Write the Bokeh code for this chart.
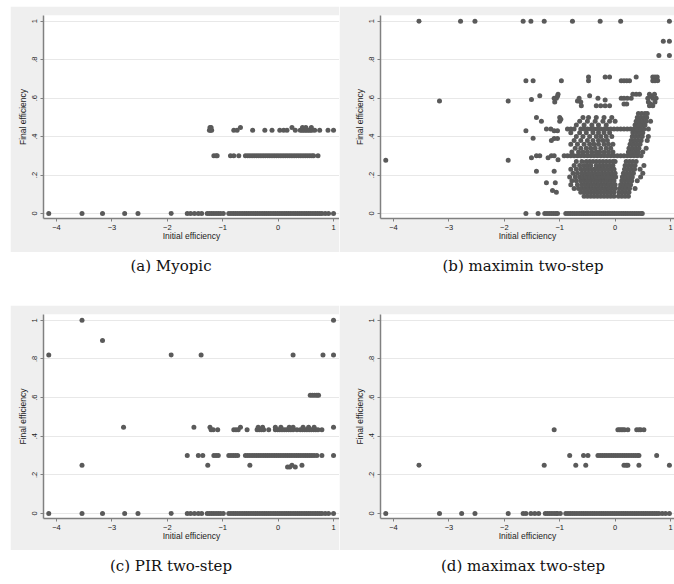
from bokeh.plotting import figure
from bokeh.layouts import column, row, Spacer
from bokeh.models import Range1d, FixedTicker, Div, ColumnDataSource
from bokeh.embed import file_html
from bokeh.resources import INLINE

# ---------------- data ----------------
X_TICKS = [-4, -3, -2, -1, 0, 1]
Y_TICKS = [0, 0.2, 0.4, 0.6, 0.8, 1]
Y_TICK_LABELS = ["0", ".2", ".4", ".6", ".8", "1"]
X_LABEL = "Initial efficiency"
Y_LABEL = "Final efficiency"
CAPTIONS = ["(a) Myopic", "(b) maximin two-step", "(c) PIR two-step", "(d) maximax two-step"]

# (a) Myopic : rows of (final efficiency, [initial efficiency values])
a_y0 = [-4.14, -3.54, -3.17, -2.77, -2.53, -1.93, -1.64, -1.58, -1.51, -1.44, -1.38,
        -1.28, -1.24, -1.20, -1.16, -1.12, -1.08, -1.04, -0.99, -0.89, -0.85, -0.81,
        -0.77, -0.73, -0.69, -0.65, -0.61, -0.57, -0.53, -0.49, -0.45, -0.41, -0.37,
        -0.33, -0.29, -0.25, -0.21, -0.17, -0.13, -0.09, -0.05, -0.01, 0.03, 0.07,
        0.11, 0.15, 0.19, 0.23, 0.27, 0.31, 0.35, 0.39, 0.43, 0.47, 0.51, 0.55, 0.59,
        0.63, 0.67, 0.71, 0.75, 0.79, 0.85, 0.91, 1.00]
a_y30 = [-1.16, -1.12, -1.10, -0.86, -0.80, -0.71, -0.59, -0.55, -0.51, -0.47, -0.43,
         -0.39, -0.35, -0.31, -0.27, -0.23, -0.19, -0.15, -0.11, -0.07, -0.03, 0.01,
         0.05, 0.09, 0.13, 0.17, 0.21, 0.25, 0.29, 0.33, 0.37, 0.41, 0.45, 0.49, 0.53,
         0.57, 0.61, 0.64, 0.72]
a_y43 = [-1.24, -1.22, -1.20, -0.80, -0.74, -0.46, -0.24, -0.11, 0.03, 0.10, 0.16,
         0.31, 0.40, 0.43, 0.46, 0.49, 0.52, 0.55, 0.58, 0.61, 0.66, 0.75, 0.90, 1.00]
a_y45 = [-1.23, -1.21, -0.68, 0.25, 0.44, 0.50, 0.60]
a_rows = [(0.0, a_y0), (0.30, a_y30), (0.433, a_y43), (0.447, a_y45)]

# (b) maximin two-step
b_y0 = [-1.61, -1.39, -1.27, -1.23, -1.19, -1.15, -1.11, -1.07, -1.04, -0.89, -0.85,
        -0.81, -0.77, -0.73, -0.69, -0.65, -0.61, -0.57, -0.53, -0.49, -0.45, -0.41,
        -0.37, -0.33, -0.29, -0.25, -0.21, -0.17, -0.13, -0.09, -0.05, -0.01, 0.03,
        0.07, 0.11, 0.15, 0.19, 0.23, 0.27, 0.31, 0.35, 0.39, 0.43, 0.47, 0.49]
b_rows = [
    (0.0, b_y0),
    (0.09, [-0.56, -0.50, -0.44, -0.38, -0.32, -0.26, -0.20, -0.14, -0.08, -0.02, 0.06, 0.12, 0.18, 0.24]),
    (0.11, [-0.62, -0.56, -0.50, -0.44, -0.38, -0.32, -0.26, -0.20, -0.14, -0.08, -0.02, 0.07, 0.13, 0.19, 0.25]),
    (0.13, [-0.74, -0.66, -0.60, -0.54, -0.48, -0.42, -0.36, -0.30, -0.24, -0.18, -0.12, -0.06, 0.00, 0.08, 0.14, 0.20, 0.26, 0.36]),
    (0.15, [-0.80, -0.68, -0.60, -0.54, -0.48, -0.42, -0.36, -0.30, -0.24, -0.18, -0.12, -0.06, 0.00, 0.10, 0.16, 0.22, 0.28]),
    (0.17, [-0.78, -0.70, -0.62, -0.56, -0.50, -0.44, -0.38, -0.32, -0.26, -0.20, -0.14, -0.08, -0.02, 0.12, 0.18, 0.24, 0.30, 0.40]),
    (0.19, [-0.82, -0.72, -0.64, -0.58, -0.52, -0.46, -0.40, -0.34, -0.28, -0.22, -0.16, -0.10, -0.04, 0.01, 0.13, 0.19, 0.25, 0.31, 0.46]),
    (0.21, [-0.76, -0.68, -0.60, -0.54, -0.48, -0.42, -0.36, -0.30, -0.24, -0.18, -0.12, -0.06, 0.00, 0.15, 0.21, 0.27, 0.33, 0.50]),
    (0.23, [-0.80, -0.70, -0.62, -0.56, -0.50, -0.44, -0.38, -0.32, -0.26, -0.20, -0.14, -0.08, -0.02, 0.17, 0.23, 0.29, 0.35, 0.45]),
    (0.25, [-0.74, -0.64, -0.56, -0.50, -0.44, -0.34, -0.28, -0.22, -0.16, -0.10, -0.04, 0.18, 0.24, 0.30, 0.36, 0.52]),
    (0.27, [-0.70, -0.60, -0.52, -0.46, -0.40, -0.34, -0.28, -0.22, -0.16, -0.10, -0.04, 0.00, 0.20, 0.26, 0.32, 0.38]),
    (0.30, [-0.92, -0.86, -0.80, -0.74, -0.68, -0.62, -0.56, -0.50, -0.44, -0.38, -0.32, -0.26, -0.20, -0.14, -0.08, -0.02, 0.04, 0.10, 0.16, 0.22, 0.28, 0.34, 0.40, 0.47]),
    (0.32, [-0.78, -0.66, -0.58, -0.50, -0.42, -0.34, -0.28, -0.20, -0.12, -0.04, 0.24, 0.30, 0.36, 0.42, 0.50]),
    (0.34, [-0.72, -0.62, -0.52, -0.44, -0.36, -0.26, -0.16, -0.08, 0.25, 0.31, 0.37, 0.43, 0.56]),
    (0.36, [-0.80, -0.68, -0.56, -0.46, -0.38, -0.30, -0.20, -0.12, -0.04, 0.27, 0.33, 0.39, 0.45]),
    (0.38, [-0.74, -0.62, -0.50, -0.40, -0.30, -0.22, -0.14, 0.29, 0.35, 0.41, 0.47, 0.58]),
    (0.40, [-0.70, -0.58, -0.46, -0.34, -0.26, -0.16, -0.06, 0.31, 0.37, 0.43, 0.49, 0.60]),
    (0.42, [-0.80, -0.64, -0.52, -0.40, -0.30, -0.20, -0.10, 0.32, 0.38, 0.44, 0.50]),
    (0.44, [-0.86, -0.80, -0.74, -0.62, -0.56, -0.50, -0.44, -0.38, -0.32, -0.26, -0.20, -0.14, -0.08, -0.02, 0.04, 0.10, 0.16, 0.22, 0.28, 0.34, 0.40, 0.46, 0.52, 0.60]),
    (0.46, [-0.70, -0.56, -0.42, -0.30, -0.16, 0.36, 0.42, 0.48, 0.54]),
    (0.48, [-0.64, -0.50, -0.36, -0.22, -0.10, 0.00, 0.38, 0.44, 0.50, 0.56, 0.64]),
    (0.50, [-0.58, -0.48, -0.34, -0.20, -0.06, 0.40, 0.46, 0.52, 0.57]),
    (0.52, [0.42, 0.48, 0.54, 0.58]),
    (1.0, [-3.54, -2.79, -2.53, -1.66, -1.52, -1.28, -0.77, -0.27, 0.10, 0.98]),
]
b_px = [0.87, 0.98, 0.79, 0.98, -3.17, -1.93, -4.14, -1.93,
        -1.61, -1.48, -0.97, -0.48, -0.48, -0.18, -0.10, 0.11, 0.16, 0.21, 0.26, 0.38,
        0.68, 0.72, 0.76, 0.68, 0.72, 0.77,
        -1.51, -1.36, -1.09, -1.06, -1.03, -0.68, -0.65, -0.62, -0.61, -0.46, -0.34,
        -0.26, -0.18, -0.10, -0.31, -0.18, 0.11, 0.16, 0.22, 0.29, 0.16, 0.21, 0.32,
        0.38, 0.44, 0.59, 0.62, 0.65, 0.68, 0.71, 0.74, 0.60, 0.64, 0.68, 0.72, 0.62,
        -1.61, -1.48, -1.42, -1.33, -1.51, -1.42, -1.36, -1.42, -1.24, -1.16, -1.10,
        -1.04, -1.15, -1.10, -1.04, -1.21, -1.15, -1.10, -1.03, -1.00, -1.24, -1.13,
        -1.08, -1.10, -1.06, -1.00, -0.98, -1.10, -1.04]
b_py = [0.896, 0.896, 0.822, 0.822, 0.585, 0.585, 0.277, 0.277,
        0.69, 0.69, 0.69, 0.69, 0.71, 0.71, 0.71, 0.69, 0.69, 0.69, 0.69, 0.71,
        0.71, 0.71, 0.71, 0.69, 0.69, 0.69,
        0.593, 0.612, 0.58, 0.60, 0.62, 0.585, 0.60, 0.58, 0.56, 0.612, 0.56,
        0.56, 0.56, 0.56, 0.60, 0.59, 0.60, 0.60, 0.60, 0.60, 0.57, 0.57, 0.62,
        0.62, 0.62, 0.60, 0.62, 0.61, 0.60, 0.62, 0.60, 0.58, 0.57, 0.56, 0.58, 0.56,
        0.43, 0.392, 0.50, 0.48, 0.29, 0.30, 0.30, 0.22, 0.44, 0.44, 0.43,
        0.43, 0.38, 0.39, 0.39, 0.29, 0.30, 0.30, 0.28, 0.48, 0.16, 0.12,
        0.16, 0.22, 0.11, 0.50, 0.49, 0.60, 0.61]

# (c) PIR two-step
c_rows = [
    (0.0, [-4.14, -3.54, -3.17, -2.77, -2.53, -1.93, -1.64, -1.58, -1.51, -1.44, -1.38,
           -1.28, -1.24, -1.20, -1.16, -1.12, -1.08, -1.04, -0.99, -0.89, -0.85, -0.81,
           -0.77, -0.73, -0.69, -0.65, -0.61, -0.57, -0.53, -0.49, -0.45, -0.41, -0.37,
           -0.33, -0.29, -0.25, -0.21, -0.17, -0.13, -0.09, -0.05, -0.01, 0.03, 0.07,
           0.11, 0.15, 0.19, 0.23, 0.27, 0.31, 0.35, 0.39, 0.43, 0.47, 0.51, 0.55, 0.59,
           0.63, 0.67, 0.71, 0.75, 0.79, 0.85, 0.91, 1.00]),
    (0.24, [0.17, 0.21, 0.31]),
    (0.25, [-3.54, -1.27, -0.51, 0.25, 0.43]),
    (0.30, [-1.64, -1.44, -1.36, -1.16, -1.12, -1.08, -0.89, -0.85, -0.81, -0.77, -0.73,
            -0.59, -0.55, -0.51, -0.47, -0.43, -0.39, -0.35, -0.31, -0.27, -0.23, -0.19,
            -0.15, -0.11, -0.07, -0.03, 0.01, 0.05, 0.09, 0.13, 0.17, 0.21, 0.25, 0.29,
            0.33, 0.37, 0.41, 0.45, 0.49, 0.53, 0.57, 0.61, 0.65, 0.70, 0.79, 1.00]),
    (0.433, [-1.21, -1.17, -1.09, -0.80, -0.76, -0.72, -0.56, -0.38, -0.34, -0.30, -0.26,
             -0.17, -0.05, -0.01, 0.03, 0.07, 0.11, 0.15, 0.19, 0.23, 0.27, 0.34, 0.40,
             0.44, 0.48, 0.52, 0.56, 0.60, 0.64, 0.68, 0.72, 0.79]),
    (0.446, [-2.79, -1.52, -1.23, -0.68, -0.36, -0.28, -0.05, 0.05, 0.20, 0.27, 0.45,
             0.55, 0.65, 1.00]),
    (0.612, [0.58, 0.62, 0.66, 0.70, 0.73]),
    (0.82, [-4.14, -1.93, -1.39, 0.27, 0.81, 1.00]),
    (0.896, [-3.17]),
    (1.0, [-3.54, 1.00]),
]

# (d) maximax two-step
d_rows = [
    (0.0, [-4.14, -3.17, -2.77, -2.53, -1.93, -1.66, -1.61, -1.52, -1.45, -1.38,
           -1.26, -1.22, -1.18, -1.14, -1.10, -1.06, -1.04, -0.99, -0.89, -0.85, -0.81,
           -0.77, -0.73, -0.69, -0.65, -0.61, -0.57, -0.53, -0.49, -0.45, -0.41, -0.37,
           -0.33, -0.29, -0.25, -0.21, -0.17, -0.13, -0.09, -0.05, -0.01, 0.03, 0.07,
           0.11, 0.15, 0.19, 0.23, 0.27, 0.31, 0.35, 0.39, 0.43, 0.47, 0.51, 0.55, 0.59,
           0.63, 0.67, 0.71, 0.75, 0.79, 0.85, 0.91, 0.98]),
    (0.25, [-3.54, -1.28, -0.71, -0.53, 0.16, 0.20, 0.23, 0.43, 0.98]),
    (0.30, [-0.82, -0.57, -0.49, -0.31, -0.27, -0.23, -0.19, -0.15, -0.11, -0.07, -0.03,
            0.01, 0.05, 0.09, 0.13, 0.17, 0.21, 0.25, 0.29, 0.33, 0.37, 0.41, 0.43, 0.75]),
    (0.433, [-1.10, 0.05, 0.08, 0.11, 0.14, 0.17, 0.23, 0.39, 0.43, 0.46, 0.52]),
]

# ---------------- styling ----------------
GRAY_BG = "#efefef"
MARK = "#5a5a5a"
AXIS = "#808080"
FONT = "Liberation Sans"


def flatten(rows):
    xs, ys = [], []
    for yv, xl in rows:
        xs.extend(xl)
        ys.extend([yv] * len(xl))
    return xs, ys


def panel(xs, ys, width, height, left, top, bottom, x_end):
    p = figure(width=width, height=height, output_backend="svg", toolbar_location=None,
               x_range=Range1d(-4.235, x_end), y_range=Range1d(-0.026, 1.03),
               min_border_left=left, min_border_right=0, min_border_top=top,
               min_border_bottom=bottom)
    p.background_fill_color = "white"
    p.border_fill_color = GRAY_BG
    p.outline_line_color = None
    p.xgrid.visible = False
    p.ygrid.grid_line_color = "#e8e8e8"
    p.ygrid.grid_line_width = 1
    p.xaxis.ticker = FixedTicker(ticks=X_TICKS)
    p.yaxis.ticker = FixedTicker(ticks=Y_TICKS)
    p.yaxis.major_label_overrides = {t: l for t, l in zip(Y_TICKS, Y_TICK_LABELS)}
    p.yaxis.major_label_orientation = "vertical"
    for ax in (p.xaxis[0], p.yaxis[0]):
        ax.axis_line_color = AXIS
        ax.axis_line_width = 1.5
        ax.major_tick_line_color = AXIS
        ax.major_tick_in = 0
        ax.major_tick_out = 3
        ax.minor_tick_line_color = None
        ax.major_label_text_font = FONT
        ax.major_label_text_font_size = "7.5px"
        ax.major_label_text_color = "#222222"
        ax.axis_label_text_font = FONT
        ax.axis_label_text_font_size = "8.5px"
        ax.axis_label_text_font_style = "normal"
        ax.axis_label_text_color = "#222222"
        ax.major_label_standoff = 3
    p.xaxis.axis_label = X_LABEL
    p.yaxis.axis_label = Y_LABEL
    p.xaxis.axis_label_standoff = -2
    p.yaxis.axis_label_standoff = 2
    src = ColumnDataSource(data=dict(x=xs, y=ys))
    p.scatter("x", "y", source=src, marker="circle", size=5, fill_color=MARK,
              line_color=None)
    return p


ax_, ay_ = flatten(a_rows)
bx_, by_ = flatten(b_rows)
bx_ = bx_ + b_px
by_ = by_ + b_py
cx_, cy_ = flatten(c_rows)
dx_, dy_ = flatten(d_rows)

# page content starts at the window's top-left corner
fa = panel(ax_, ay_, 329, 246, 33, 9, 34, 1.108)
fb = panel(bx_, by_, 335, 246, 41, 9, 34, 1.072)
fc = panel(cx_, cy_, 329, 245, 33, 9, 32, 1.108)
fd = panel(dx_, dy_, 335, 245, 41, 9, 32, 1.072)


def caption_div(left_text, right_text, height, cy):
    span = ('<span style="position:absolute;left:{}px;top:{}px;transform:translate(-50%,-50%);'
            'white-space:nowrap;">{}</span>')
    html = ('<div style="position:relative;width:664px;height:{}px;font-family:\'DejaVu Serif\';'
            'font-size:15px;color:#111;">'.format(height)
            + span.format(171, cy, left_text) + span.format(523, cy, right_text) + '</div>')
    return Div(text=html, width=664, height=height, margin=0)


cap1 = caption_div(CAPTIONS[0], CAPTIONS[1], 53, 15)
cap2 = caption_div(CAPTIONS[2], CAPTIONS[3], 30, 17)

layout = column(Spacer(width=10, height=6),
                row(Spacer(width=10, height=246), fa, fb), cap1,
                row(Spacer(width=10, height=245), fc, fd), cap2)

open("out.html", "w").write(file_html(layout, INLINE))
